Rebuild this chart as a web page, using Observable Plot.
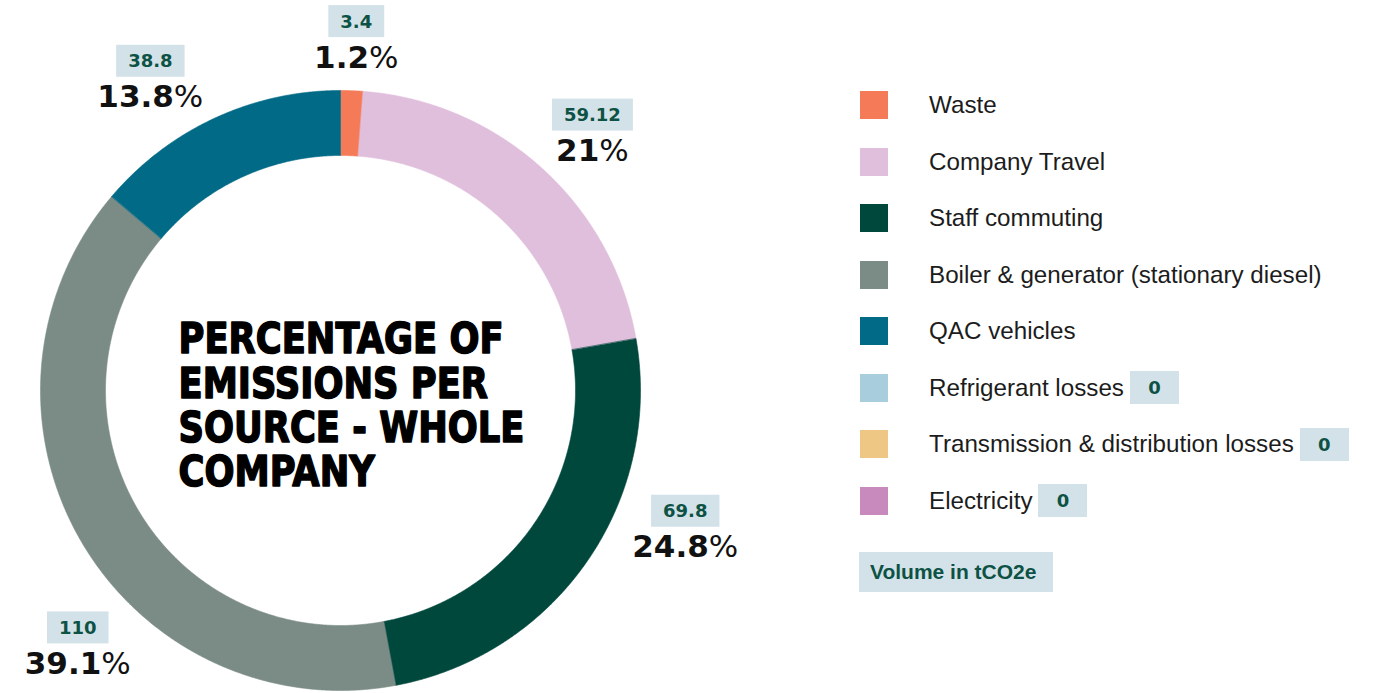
<!DOCTYPE html>
<html>
<head>
<meta charset="utf-8">
<script src="https://cdn.jsdelivr.net/npm/d3@7"></script>
<script src="https://cdn.jsdelivr.net/npm/@observablehq/plot@0.6"></script>
<style>
  body { margin: 0; background: #fff; }
  #wrap { position: relative; width: 1384px; height: 693px; overflow: hidden; background: #fff; }
  #chart { position: absolute; left: 0; top: 0; }
  #legend { position: absolute; left: 860px; top: 76.75px; font-family: "Liberation Sans", Arial, sans-serif; }
  .row { height: 56.5px; display: flex; align-items: center; }
  .sw { width: 28px; height: 28px; flex: none; }
  .lab { margin-left: 41px; font-size: 24.2px; color: #1c1c1c; white-space: nowrap; }
  .zero { margin-left: 6px; width: 49px; height: 33px; background: #D3E2E9; color: #0D5244;
          font-family: "DejaVu Sans", sans-serif; font-weight: bold; font-size: 18px;
          display: flex; align-items: center; justify-content: center; }
  #unit { position: absolute; left: 859px; top: 552px; width: 194px; height: 40px; background: #D3E2E9;
          color: #0D5244; font-family: "Liberation Sans", Arial, sans-serif; font-weight: bold; font-size: 21px;
          display: flex; align-items: center; box-sizing: border-box; padding-left: 11px; }
</style>
</head>
<body>
<div id="wrap">
  <div id="chart"></div>
  <div id="legend"></div>
  <div id="unit"></div>
</div>
<script>
// ---- data ----
const categories = [
  "Waste",
  "Company Travel",
  "Staff commuting",
  "Boiler & generator (stationary diesel)",
  "QAC vehicles",
  "Refrigerant losses",
  "Transmission & distribution losses",
  "Electricity"
];
const volumes = [3.4, 59.12, 69.8, 110, 38.8, 0, 0, 0];
const shares = [1.2, 21, 24.8, 39.1, 13.8, 0, 0, 0];
const colors = ["#F47A58", "#E0BFDC", "#00473C", "#7A8C85", "#016A86", "#A8CDDD", "#EEC784", "#C88ABD"];
const titleLines = ["PERCENTAGE OF", "EMISSIONS PER", "SOURCE - WHOLE", "COMPANY"];
const unitLabel = "Volume in tCO2e";

// ---- layout (label placement tweaks, not data) ----
const innerRatio = 235 / 300;
const labelNudgeDeg = [0.4, 2.2, -12.8, -14.1, -6.6];
const labelRadius = [1.17, 1.2, 1.239, 1.222, 1.215];

const slices = categories.map((cat, i) => ({cat, value: volumes[i], share: shares[i], i}))
  .filter(d => d.value > 0);
const arcs = d3.pie().sort(null).value(d => d.value)(slices);

const ringPts = [];
for (const a of arcs) {
  const n = Math.max(4, Math.ceil((a.endAngle - a.startAngle) / 0.004));
  const outer = d3.range(n + 1).map(k => a.startAngle + (a.endAngle - a.startAngle) * k / n);
  for (const t of outer) ringPts.push({cat: a.data.cat, x: Math.sin(t), y: Math.cos(t)});
  for (const t of outer.slice().reverse()) ringPts.push({cat: a.data.cat, x: innerRatio * Math.sin(t), y: innerRatio * Math.cos(t)});
}

const labels = arcs.map(a => {
  const i = a.data.i;
  const t = (a.startAngle + a.endAngle) / 2 + labelNudgeDeg[i] * Math.PI / 180;
  const r = labelRadius[i];
  return {cat: a.data.cat, value: a.data.value, share: a.data.share, x: r * Math.sin(t), y: r * Math.cos(t)};
});

const chart = Plot.plot({
  width: 1384,
  height: 693,
  margin: 0,
  x: {domain: [-1, 1], range: [40, 640], axis: null},
  y: {domain: [-1, 1], range: [690, 90], axis: null},
  color: {domain: categories, range: colors},
  style: {background: "transparent", overflow: "visible"},
  marks: [
    Plot.line(ringPts, {x: "x", y: "y", z: "cat", fill: "cat", stroke: "cat", strokeWidth: 0.6, curve: "linear-closed"}),
    Plot.text(labels, {x: "x", y: "y", text: d => String(d.value), dy: -18, fontFamily: "DejaVu Sans",
      fontWeight: "bold", fontSize: 18, fill: "#0D5244", ariaDescription: "value-label"}),
    Plot.text(labels, {x: "x", y: "y", text: d => d.share + "%", dy: 18, fontFamily: "DejaVu Sans",
      fontSize: 31, fill: "#111111", ariaDescription: "pct-label"}),
    Plot.text([titleLines.join("\n")], {x: () => 0, y: () => 0, text: d => d, textAnchor: "start",
      lineAnchor: "middle", lineHeight: 1.043, dx: -162, dy: 15, fontSize: 42.5, fontWeight: "bold",
      fontFamily: "'DejaVu Sans', sans-serif",
      fill: "#000", stroke: "#000", strokeWidth: 1.6, ariaDescription: "title"})
  ]
});
document.getElementById("chart").appendChild(chart);

const svgns = "http://www.w3.org/2000/svg";
const textGroups = chart.querySelectorAll('g[aria-label="text"]');
function group(desc, idx) {
  return chart.querySelector(`g[aria-description="${desc}"]`) || textGroups[idx];
}

// value boxes behind value labels
d3.select(group("value-label", 0)).selectAll("text").each(function () {
  const bb = this.getBBox();
  const rect = document.createElementNS(svgns, "rect");
  rect.setAttribute("x", bb.x - 12);
  rect.setAttribute("y", bb.y + bb.height / 2 - 16);
  rect.setAttribute("width", bb.width + 24);
  rect.setAttribute("height", 32);
  rect.setAttribute("fill", "#D3E2E9");
  const tr = this.getAttribute("transform");
  if (tr) rect.setAttribute("transform", tr);
  this.parentNode.insertBefore(rect, this);
});

// bold number, lighter percent sign
d3.select(group("pct-label", 1)).selectAll("text").each(function () {
  const s = this.textContent;
  const num = s.replace("%", "");
  this.textContent = "";
  const t1 = document.createElementNS(svgns, "tspan");
  t1.setAttribute("font-weight", "bold");
  t1.textContent = num;
  const t2 = document.createElementNS(svgns, "tspan");
  t2.setAttribute("font-weight", "normal");
  t2.textContent = "%";
  this.appendChild(t1);
  this.appendChild(t2);
});

// condense the title horizontally to the reference's narrow heavy face
(function () {
  const g = group("title", 2);
  if (!g) return;
  const bb = g.getBBox();
  const sx = 346 / bb.width;
  const existing = g.getAttribute("transform") || "";
  g.setAttribute("transform", `${existing} translate(${bb.x},0) scale(${sx},1) translate(${-bb.x},0)`);
})();

// legend
const legend = d3.select("#legend");
categories.forEach((c, i) => {
  const row = legend.append("div").attr("class", "row");
  row.append("div").attr("class", "sw").style("background", colors[i]);
  row.append("div").attr("class", "lab").text(c);
  if (volumes[i] === 0) row.append("div").attr("class", "zero").text(String(volumes[i]));
});
d3.select("#unit").text(unitLabel);
</script>
</body>
</html>
